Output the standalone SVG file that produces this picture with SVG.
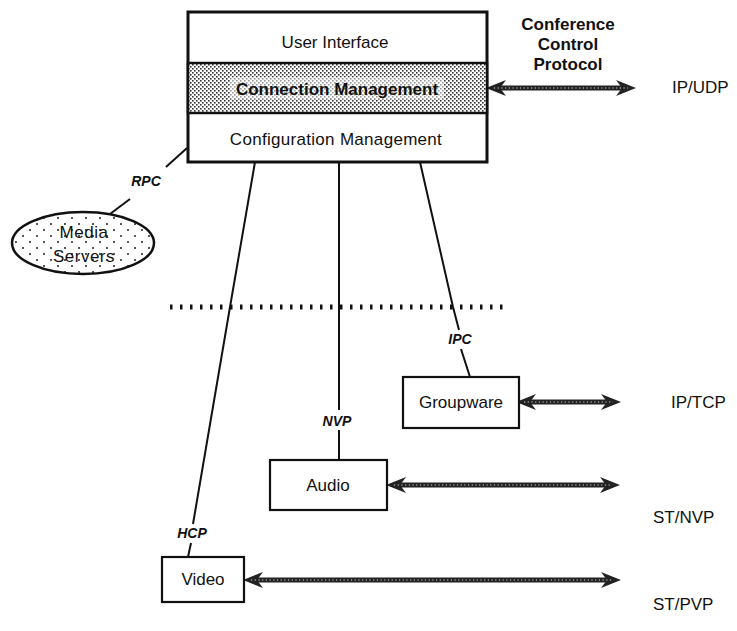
<svg xmlns="http://www.w3.org/2000/svg" width="737" height="631" viewBox="0 0 737 631">
<style>
text{font-family:"Liberation Sans",Arial,sans-serif;fill:#111}
.lbl{font-size:17px;text-anchor:middle}
.b{font-weight:bold}
.it{font-size:14px;font-style:italic;font-weight:bold;text-anchor:middle}
.side{font-size:17px}
.box{fill:#fff;stroke:#111;stroke-width:2.2}
.ln{stroke:#111;stroke-width:2;fill:none}
.arr{stroke:#222;stroke-width:5;fill:none}
.arrh{stroke:#999;stroke-width:1.6;stroke-dasharray:1.2 2.5;fill:none}
</style>
<defs>
<pattern id="dense" width="4" height="4" patternUnits="userSpaceOnUse">
<rect width="4" height="4" fill="#fff"/>
<rect x="0" y="0" width="1.6" height="1.6" fill="#333"/>
<rect x="2" y="2" width="1.6" height="1.6" fill="#333"/>
</pattern>
<pattern id="sparse" width="14" height="12" patternUnits="userSpaceOnUse">
<rect width="14" height="12" fill="#fff"/>
<circle cx="2" cy="2" r="1" fill="#222"/>
<circle cx="9" cy="8" r="1" fill="#222"/>
</pattern>
<marker id="ah" viewBox="0 0 10 10" refX="6" refY="5" markerWidth="4" markerHeight="4" orient="auto-start-reverse" markerUnits="strokeWidth">
<path d="M0,1 L10,5 L0,9 L3,5 Z" fill="#222"/>
</marker>
</defs>

<g id="connectors">
<line class="ln" x1="187" y1="148" x2="166" y2="167"/>
<line class="ln" x1="130" y1="199" x2="110" y2="214"/>
<polyline class="ln" points="255,162 230,307 193,524"/>
<line class="ln" x1="191" y1="543" x2="188" y2="557"/>
<line class="ln" x1="339" y1="162" x2="339" y2="410"/>
<line class="ln" x1="339" y1="430" x2="339" y2="460"/>
<polyline class="ln" points="420,162 453,307 459,330"/>
<line class="ln" x1="461" y1="349" x2="470" y2="377"/>
<line x1="170" y1="307" x2="510" y2="307" stroke="#111" stroke-width="5" stroke-dasharray="2.5 7.5"/>
<line class="arr" x1="494" y1="88" x2="628" y2="88" marker-start="url(#ah)" marker-end="url(#ah)"/>
<line class="arrh" x1="494" y1="88" x2="628" y2="88"/>
<line class="arr" x1="524" y1="402" x2="613" y2="402" marker-start="url(#ah)" marker-end="url(#ah)"/>
<line class="arrh" x1="524" y1="402" x2="613" y2="402"/>
<line class="arr" x1="394" y1="485" x2="612" y2="485" marker-start="url(#ah)" marker-end="url(#ah)"/>
<line class="arrh" x1="394" y1="485" x2="612" y2="485"/>
<line class="arr" x1="251" y1="580" x2="613" y2="580" marker-start="url(#ah)" marker-end="url(#ah)"/>
<line class="arrh" x1="251" y1="580" x2="613" y2="580"/>
<text class="it" x="146" y="186">RPC</text>
<text class="it" x="460" y="344">IPC</text>
<text class="it" x="337" y="426">NVP</text>
<text class="it" x="192" y="538">HCP</text>
</g>

<g id="control">
<rect x="188" y="12" width="299" height="150" fill="#fff" stroke="#111" stroke-width="3"/>
<rect x="188" y="63" width="299" height="50" fill="url(#dense)" stroke="#111" stroke-width="2.5"/>
<rect x="230" y="77" width="214" height="22" fill="#fff" opacity="0.5"/>
<text class="lbl" x="335" y="48">User Interface</text>
<text class="lbl b" x="337" y="95" font-size="18">Connection Management</text>
<text class="lbl" x="336" y="145" letter-spacing="0.3">Configuration Management</text>
</g>

<g id="media-servers">
<ellipse cx="83" cy="243" rx="71" ry="31" fill="url(#sparse)" stroke="#111" stroke-width="2.5"/>
<text class="lbl" x="84" y="238" letter-spacing="0.5">Media</text>
<text class="lbl" x="84" y="262" letter-spacing="0.5">Servers</text>
</g>

<g id="groupware">
<rect class="box" x="403" y="377" width="116" height="51"/>
<text class="lbl" x="461" y="408">Groupware</text>
</g>

<g id="audio">
<rect class="box" x="270" y="460" width="117" height="50"/>
<text class="lbl" x="328" y="491">Audio</text>
</g>

<g id="video">
<rect class="box" x="162" y="557" width="82" height="45"/>
<text class="lbl" x="203" y="585">Video</text>
</g>

<g id="labels">
<text class="lbl b" x="568" y="30">Conference</text>
<text class="lbl b" x="568" y="50">Control</text>
<text class="lbl b" x="568" y="70">Protocol</text>
<text class="side" x="672" y="93">IP/UDP</text>
<text class="side" x="671" y="408">IP/TCP</text>
<text class="side" x="653" y="523">ST/NVP</text>
<text class="side" x="653" y="610">ST/PVP</text>
</g>
</svg>
